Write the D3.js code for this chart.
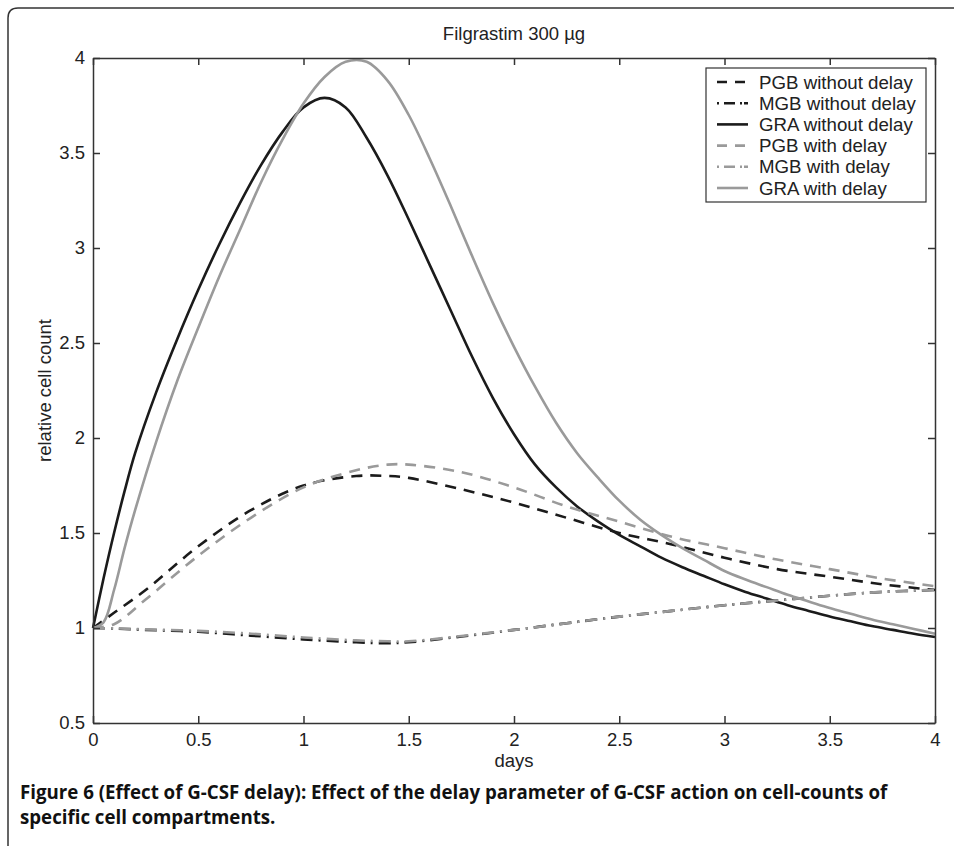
<!DOCTYPE html>
<html>
<head>
<meta charset="utf-8">
<script src="https://cdn.jsdelivr.net/npm/d3@7"></script>
<style>
  body { margin: 0; background: #fff; }
  svg { display: block; }
  .axis text { font-family: "Liberation Sans", Arial, sans-serif; font-size: 18.5px; fill: #222; }
</style>
</head>
<body>
<svg width="954" height="846"></svg>
<script>
// days on the x axis (granulocytes)
const days = [0, 0.05, 0.1, 0.15, 0.2, 0.3, 0.4, 0.5, 0.6, 0.7, 0.8, 0.9, 1.0, 1.1, 1.2, 1.3, 1.4, 1.5, 1.6, 1.7, 1.8, 1.9, 2.0, 2.1, 2.2, 2.3, 2.4, 2.5, 2.6, 2.7, 2.8, 2.9, 3.0, 3.1, 3.2, 3.3, 3.4, 3.5, 3.6, 3.7, 3.8, 3.9, 4.0]

const graNoDelay = [1.0, 1.26, 1.5, 1.72, 1.92, 2.24, 2.52, 2.78, 3.02, 3.24, 3.44, 3.61, 3.74, 3.79, 3.74, 3.58, 3.38, 3.15, 2.91, 2.67, 2.43, 2.21, 2.02, 1.86, 1.74, 1.64, 1.56, 1.49, 1.43, 1.37, 1.32, 1.275, 1.23, 1.19, 1.155, 1.12, 1.09, 1.06, 1.035, 1.01, 0.99, 0.97, 0.953]
const graDelay = [1.0, 1.03, 1.2, 1.42, 1.62, 1.98, 2.3, 2.58, 2.85, 3.1, 3.35, 3.57, 3.76, 3.9, 3.98, 3.98, 3.88, 3.7, 3.47, 3.22, 2.96, 2.71, 2.48, 2.27, 2.08, 1.92, 1.79, 1.67, 1.57, 1.49, 1.42, 1.36, 1.3, 1.255, 1.215, 1.175, 1.14, 1.105, 1.075, 1.045, 1.02, 0.995, 0.97]

// progenitor / mitotic compartments, sampled coarser
const days2 = [0, 0.1, 0.25, 0.5, 0.75, 1.0, 1.25, 1.4, 1.5, 1.75, 2.0, 2.25, 2.5, 2.75, 3.0, 3.25, 3.5, 3.75, 4.0]
const pgbNoDelay = [1.0, 1.08, 1.2, 1.43, 1.62, 1.75, 1.8, 1.8, 1.79, 1.73, 1.66, 1.58, 1.5, 1.44, 1.37, 1.31, 1.27, 1.23, 1.2]
const pgbDelay = [1.0, 1.02, 1.15, 1.38, 1.58, 1.74, 1.83, 1.86, 1.86, 1.82, 1.74, 1.64, 1.56, 1.48, 1.42, 1.36, 1.31, 1.26, 1.22]
const mgbNoDelay = [1.0, 0.997, 0.99, 0.98, 0.96, 0.94, 0.925, 0.92, 0.925, 0.955, 0.99, 1.025, 1.06, 1.09, 1.12, 1.145, 1.17, 1.19, 1.2]
const mgbDelay = [1.0, 0.998, 0.993, 0.985, 0.97, 0.95, 0.935, 0.93, 0.93, 0.958, 0.99, 1.025, 1.06, 1.09, 1.12, 1.145, 1.17, 1.19, 1.2]

const xTicks = [0, 0.5, 1, 1.5, 2, 2.5, 3, 3.5, 4]
const yTicks = [0.5, 1, 1.5, 2, 2.5, 3, 3.5, 4]

const BLACK = '#1b1b1b', GREY = '#9a9a9a'
const DASH = '11,8', DASHDOT = '12,6,2,6'

const series = [
  {name: 'PGB without delay', x: days2, y: pgbNoDelay, color: BLACK, dash: DASH},
  {name: 'MGB without delay', x: days2, y: mgbNoDelay, color: BLACK, dash: DASHDOT},
  {name: 'GRA without delay', x: days, y: graNoDelay, color: BLACK, dash: null},
  {name: 'PGB with delay', x: days2, y: pgbDelay, color: GREY, dash: DASH},
  {name: 'MGB with delay', x: days2, y: mgbDelay, color: GREY, dash: DASHDOT},
  {name: 'GRA with delay', x: days, y: graDelay, color: GREY, dash: null}
]

const svg = d3.select('svg'),
    margin = {top: 58, right: 19, bottom: 123, left: 93},
    width = 954 - margin.left - margin.right,
    height = 846 - margin.top - margin.bottom,
    x = d3.scaleLinear().domain([0, 4]).range([0, width]),
    y = d3.scaleLinear().domain([0.5, 4]).range([height, 0])

const FONT = '"Liberation Sans", Arial, sans-serif'

// figure frame with rounded top-left corner
svg.append('path')
    .attr('d', 'M8,846 L8,18 Q8,8 18,8 L954,8')
    .attr('fill', 'none')
    .attr('stroke', '#333')
    .attr('stroke-width', 1.5)

const chart = svg.append('g')
    .attr('transform', 'translate(' + margin.left + ',' + margin.top + ')')

svg.append('text')
    .attr('x', margin.left + width / 2)
    .attr('y', 40)
    .attr('text-anchor', 'middle')
    .style('font-family', FONT)
    .style('font-size', '18.5px')
    .attr('fill', '#222')
    .text('Filgrastim 300 \u00b5g')

const line = d3.line().curve(d3.curveCatmullRom.alpha(0.5))

chart.append('g').selectAll('path')
  .data(series)
  .enter().append('path')
    .attr('d', s => line(s.x.map((d, i) => [x(d), y(s.y[i])])))
    .attr('fill', 'none')
    .attr('stroke', s => s.color)
    .attr('stroke-width', 2.6)
    .attr('stroke-dasharray', s => s.dash)

// axes, MATLAB style ticks pointing inwards on all four sides
const tick = 7
chart.append('g').attr('class', 'axis')
    .attr('transform', 'translate(0,' + height + ')')
    .call(d3.axisBottom(x).tickValues(xTicks).tickSizeInner(-tick).tickSizeOuter(0).tickPadding(10).tickFormat(d3.format('')))
chart.append('g').attr('class', 'axis')
    .call(d3.axisTop(x).tickValues(xTicks).tickSizeInner(-tick).tickSizeOuter(0).tickFormat(''))
chart.append('g').attr('class', 'axis')
    .call(d3.axisLeft(y).tickValues(yTicks).tickSizeInner(-tick).tickSizeOuter(0).tickPadding(8).tickFormat(d3.format('')))
chart.append('g').attr('class', 'axis')
    .attr('transform', 'translate(' + width + ',0)')
    .call(d3.axisRight(y).tickValues(yTicks).tickSizeInner(-tick).tickSizeOuter(0).tickFormat(''))

chart.selectAll('.axis path, .axis line').attr('stroke', '#333').attr('stroke-width', 1.5)

chart.append('text')
    .attr('x', width / 2)
    .attr('y', height + 44)
    .attr('text-anchor', 'middle')
    .style('font-family', FONT)
    .style('font-size', '18.5px')
    .attr('fill', '#222')
    .text('days')

chart.append('text')
    .attr('transform', 'rotate(-90)')
    .attr('x', -height / 2)
    .attr('y', -42)
    .attr('text-anchor', 'middle')
    .style('font-family', FONT)
    .style('font-size', '18.5px')
    .attr('fill', '#222')
    .text('relative cell count')

// legend
const legend = chart.append('g').attr('transform', 'translate(613,10)')
legend.append('rect')
    .attr('width', 220).attr('height', 134)
    .attr('fill', '#fff').attr('stroke', '#333').attr('stroke-width', 1.2)
const item = legend.selectAll('g.item')
  .data(series)
  .enter().append('g').attr('class', 'item')
    .attr('transform', (d, i) => 'translate(0,' + (14 + i * 21.2) + ')')
item.append('line')
    .attr('x1', 11).attr('x2', 42)
    .attr('stroke', d => d.color).attr('stroke-width', 2.6)
    .attr('stroke-dasharray', d => d.dash ? (d.dash === DASH ? '10,8' : '2,5,11,5,2') : null)
item.append('text')
    .attr('x', 53).attr('dy', '0.35em')
    .style('font-family', FONT)
    .style('font-size', '18.7px')
    .attr('fill', '#222')
    .text(d => d.name)

// caption, sized so the first line ends where the reference does
const caption = svg.append('text')
    .style('font-family', '"Open Sans", Lato, sans-serif')
    .style('font-weight', 'bold')
    .style('font-size', '18px')
    .attr('fill', '#111')
const cap1 = caption.append('tspan').attr('x', 20).attr('y', 799)
    .text('Figure 6 (Effect of G-CSF delay): Effect of the delay parameter of G-CSF action on cell-counts of')
caption.append('tspan').attr('x', 20).attr('y', 824)
    .text('specific cell compartments.')
const len = cap1.node().getComputedTextLength()
caption.style('font-size', (18 * 868 / len).toFixed(2) + 'px')
</script>
</body>
</html>
